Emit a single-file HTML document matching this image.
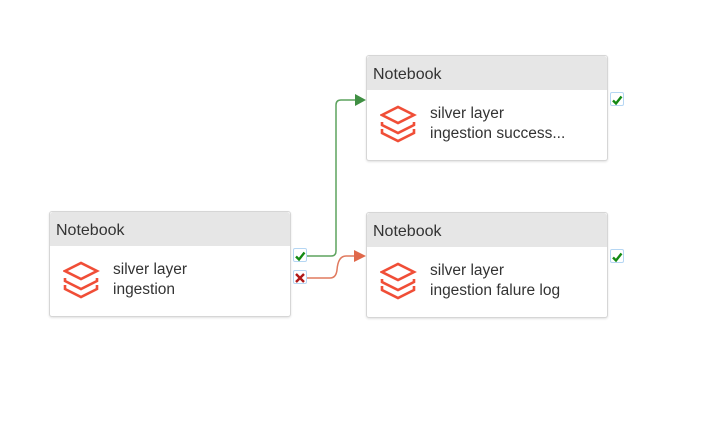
<!DOCTYPE html>
<html><head><style>
body{margin:0;width:711px;height:425px;background:#fff;overflow:hidden;position:relative;font-family:"Segoe UI","Liberation Sans",sans-serif}
.box{position:absolute;width:240px;height:104px;border:1px solid #d6d6d6;border-radius:3px;background:#fff;box-shadow:0 1px 2px rgba(0,0,0,.12)}
.hd{height:34px;background:#e6e6e6;font-size:16px;color:#333;line-height:38px;padding-left:6px;border-radius:3px 3px 0 0}
.ic{position:absolute;left:13px;top:49px}
.tx{position:absolute;left:63px;top:48px;font-size:15.5px;color:#333;line-height:20px;white-space:nowrap}
.cb{position:absolute;width:12px;height:12px;border:1.5px solid #b5d6f3;background:#fff;border-radius:2px}
</style></head><body>
<svg width="0" height="0" style="position:absolute"><defs>
<g id="stk" fill="none" stroke="#f04e37" stroke-width="2.6" stroke-linejoin="miter">
<path d="M2 10 L18 2 L34 10 L18 18 Z"/>
<path d="M2 17 L2 20 L18 28 L34 20 L34 17"/>
<path d="M2 24 L2 28 L18 36 L34 28 L34 24"/>
</g></defs></svg>

<div class="box" style="left:49px;top:211px"><div class="hd">Notebook</div>
<svg class="ic" width="37" height="38"><use href="#stk"/></svg>
<div class="tx">silver layer<br>ingestion</div></div>

<div class="box" style="left:366px;top:55px"><div class="hd">Notebook</div>
<svg class="ic" width="37" height="38"><use href="#stk"/></svg>
<div class="tx">silver layer<br>ingestion success...</div></div>

<div class="box" style="left:366px;top:212px"><div class="hd">Notebook</div>
<svg class="ic" width="37" height="38"><use href="#stk"/></svg>
<div class="tx">silver layer<br>ingestion falure log</div></div>

<svg width="711" height="425" style="position:absolute;left:0;top:0">
<path d="M307 256 H331 Q336 256 336 251 V105 Q336 100 341 100 H356" fill="none" stroke="#5da35f" stroke-width="1.5"/>
<path d="M355 94 L366 100 L355 106 Z" fill="#3f8f43"/>
<path d="M307 278 H330 Q336 278 337 270 Q338 256 346 256 H356" fill="none" stroke="#e07a5f" stroke-width="1.5"/>
<path d="M354 250 L366 256 L354 262 Z" fill="#e0684a"/>
</svg>

<div class="cb" style="left:293px;top:248px"><svg width="12" height="12"><path d="M2 6.5 L5 9.5 L10.5 2.5" fill="none" stroke="#138a13" stroke-width="2.4"/></svg></div>
<div class="cb" style="left:293px;top:270px"><svg width="12" height="12"><path d="M2 2 L10 10 M10 2 L2 10" stroke="#b01818" stroke-width="2.4"/></svg></div>
<div class="cb" style="left:610px;top:92px"><svg width="12" height="12"><path d="M2 6.5 L5 9.5 L10.5 2.5" fill="none" stroke="#138a13" stroke-width="2.4"/></svg></div>
<div class="cb" style="left:610px;top:249px"><svg width="12" height="12"><path d="M2 6.5 L5 9.5 L10.5 2.5" fill="none" stroke="#138a13" stroke-width="2.4"/></svg></div>
</body></html>
